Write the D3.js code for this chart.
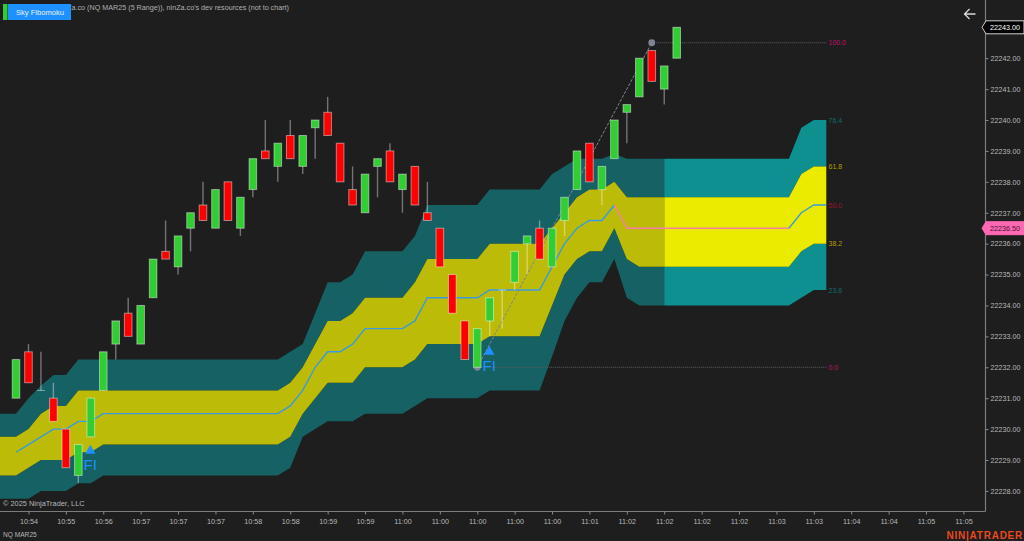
<!DOCTYPE html>
<html>
<head>
<meta charset="utf-8">
<script src="https://cdn.jsdelivr.net/npm/d3@7"></script>
<style>
  html, body { margin: 0; padding: 0; background: #1e1e1e; overflow: hidden; }
  svg { display: block; font-family: "Liberation Sans", Arial, sans-serif; }
  text { fill: #b8b8b8; }
</style>
</head>
<body>
<svg id="chart" width="1024" height="541"></svg>
<script>
// all prices are stored as offset from this
const base_price = 22200;

// candles, index 0..53
const opens  = [31,32.5,31.25,31,30,28.5,29.75,31.25,32.75,33.75,32.75,34.25,35.75,35.25,36.5,37.25,36.5,38,36.5,37.75,39,38.5,39.5,38.5,39.75,40.25,39.25,37.75,37,38.5,39,37.75,38.5,37,36.5,35,33.5,32,33.5,34.5,34.75,36,36.5,35.25,36.75,37.75,39.25,37.75,38.75,40.25,40.75,42.25,41,42];
const highs  = [32.25,32.75,32.5,31.5,30,29.5,31,32.5,33.5,34.25,34,35.5,36.75,36.25,37,38,37.75,38,37.5,38.75,40,39.25,40,39.5,40,40.75,39.25,38.5,38.25,38.75,39.25,38.25,38.5,38,36.5,35,33.5,33.25,34.25,34.5,35.75,36.25,36.75,36.5,37.5,39,39.25,38.5,40,40.5,42,42.25,41.75,43];
const lows   = [31,31.5,31.25,30.25,28.75,28.25,29.75,31.25,32.25,33,32.75,34.25,35.5,35,35.75,36.75,36.5,36.75,36.25,37.5,38.75,38,38.75,38.25,38.75,39.5,38,37.25,37,37.5,38,37,37.25,36.75,35.25,33.75,32.25,32,33,33.25,34.5,35,35.5,35.25,36.25,37.75,38,37.25,38.75,39.25,40.75,41.25,40.5,42];
const closes = [32.25,31.5,31.25,30.25,28.75,29.5,31,32.5,33.5,33,34,35.5,35.5,36.25,37,36.75,37.75,36.75,37.5,38.75,38.75,39.25,38.75,39.5,40,39.5,38,37.25,38.25,38.75,38,38.25,37.25,36.75,35.25,33.75,32.25,33.25,34.25,34.5,35.75,36.25,35.5,36.5,37.5,39,38,38.5,40,40.5,42,41.25,41.75,43];

// ribbon, index -2..65 (runs past the last candle)
const ribbon_start = -2;
const bright_from = 52;
const teal_top = [30.5,30.5,30.5,31,31.4,31.75,31.75,
  32.25,32.25,32.25,32.25,32.25,32.25,32.25,32.25,32.25,32.25,32.25,32.25,32.25,32.25,32.25,32.25,32.25,
  32.5,32.75,33.75,34.75,34.75,35,35.75,35.75,35.75,35.75,36.25,37.25,37.25,37.25,37.25,37.25,
  37.75,37.75,37.75,37.75,37.75,38.25,38.5,38.75,38.75,38.75,38.9,
  38.75,38.75,38.75,38.75,38.75,38.75,38.75,38.75,38.75,38.75,38.75,38.75,38.75,38.75,39.75,40,40];
const yellow_top = [29.75,29.75,29.75,30,30.5,30.75,30.75,
  31.25,31.25,31.25,31.25,31.25,31.25,31.25,31.25,31.25,31.25,31.25,31.25,31.25,31.25,31.25,31.25,31.25,
  31.5,32,32.75,33.5,33.5,33.75,34.25,34.25,34.25,34.25,34.75,35.5,35.5,35.5,35.5,35.5,
  36,36,36,36,36,36.5,37,37.5,37.75,37.75,38,
  37.5,37.5,37.5,37.5,37.5,37.5,37.5,37.5,37.5,37.5,37.5,37.5,37.5,37.5,38.25,38.5,38.5];
const mid_line = [null,null,29.25,29.5,29.75,30,30,30.25,30.25,
  30.5,30.5,30.5,30.5,30.5,30.5,30.5,30.5,30.5,30.5,30.5,30.5,30.5,30.5,30.5,
  30.75,31.25,32,32.5,32.5,32.75,33.25,33.25,33.25,33.25,33.5,34.25,34.25,34.25,34.25,34.25,
  34.5,34.5,34.5,34.5,34.5,35.25,36,36.5,36.75,36.75,37.25,
  36.5,36.5,36.5,36.5,36.5,36.5,36.5,36.5,36.5,36.5,36.5,36.5,36.5,36.5,37,37.25,37.25];
const yellow_bot = [28.5,28.5,28.5,28.75,29,29,29,29.25,29.25,
  29.5,29.5,29.5,29.5,29.5,29.5,29.5,29.5,29.5,29.5,29.5,29.5,29.5,29.5,29.5,
  29.75,30.5,31,31.5,31.5,31.5,32,32,32,32,32.25,32.75,32.75,32.75,32.75,32.75,
  33,33,33,33,33,34,35,35.5,35.75,35.75,36.5,
  35.5,35.25,35.25,35.25,35.25,35.25,35.25,35.25,35.25,35.25,35.25,35.25,35.25,35.25,35.75,36,36];
const teal_bot = [27.75,27.75,27.75,27.75,28,28,28,28.25,28.25,
  28.5,28.5,28.5,28.5,28.5,28.5,28.5,28.5,28.5,28.5,28.5,28.5,28.5,28.5,28.5,
  28.75,29.75,30,30.25,30.25,30.25,30.5,30.5,30.5,30.5,30.75,31,31,31,31,31,
  31.25,31.25,31.25,31.25,31.25,32.35,33.5,34.25,34.75,34.75,35.5,
  34.25,34,34,34,34,34,34,34,34,34,34,34,34,34,34.25,34.5,34.5];

// fib levels on the right
const fib_labels = ['100.0','76.4','61.8','50.0','38.2','23.6','0.0'];
const fib_prices = [42.5,40,38.5,37.25,36,34.5,32];
const fib_colors = ['#c2106e','#0f6f6f','#b89c00','#a01034','#b89c00','#0f6f6f','#c2106e'];

// FI signals
const signal_index = [6,38];
const signal_price = [29.3,32.5];

// swing used for the fib
const swing_index = [37,51];
const swing_price = [32,42.5];

const price_ticks = [22228,22229,22230,22231,22232,22233,22234,22235,22236,22237,22238,22239,22240,22241,22242];
const time_labels = ['10:54','10:55','10:56','10:57','10:57','10:57','10:58','10:58','10:59','10:59','11:00','11:00','11:00','11:00','11:00','11:01','11:02','11:02','11:02','11:02','11:03','11:03','11:04','11:04','11:05','11:05'];

const svg = d3.select('#chart');
const axis_x = 985.5, axis_y = 511.5;

const x = d3.scaleLinear().domain([0,53]).range([16,676.7]);
const y = d3.scaleLinear().domain([22228,22243]).range([490.9,27.3]);
const py = v => y(base_price + v);

svg.append('defs').append('clipPath').attr('id','plot')
  .append('rect').attr('width',axis_x).attr('height',axis_y);

const plot = svg.append('g').attr('clip-path','url(#plot)');

// ribbon bands, dim up to the last candle then bright
function draw_band(top, bot, dim, bright) {
  const rows = top.map((t,i) => ({i: i + ribbon_start, t: t, b: bot[i]}));
  const area = d3.area().x(d => x(d.i)).y0(d => py(d.b)).y1(d => py(d.t));
  plot.append('path').attr('d', area(rows.filter(d => d.i <= bright_from))).attr('fill', dim);
  plot.append('path').attr('d', area(rows.filter(d => d.i >= bright_from))).attr('fill', bright);
}
draw_band(teal_top, yellow_top, '#156163', '#0e9090');
draw_band(yellow_bot, teal_bot, '#156163', '#0e9090');
draw_band(yellow_top, yellow_bot, '#bcbc08', '#ebeb00');

// mid line, pink while flat/falling
const mid_rows = mid_line.map((v,i) => ({i: i + ribbon_start, v: v})).filter(d => d.v !== null);
const line = d3.line().x(d => x(d.i)).y(d => py(d.v));
[[0,48,'#3a9ae0'],[48,62,'#f47fa8'],[62,65,'#3a9ae0']].forEach(s => {
  plot.append('path').attr('d', line(mid_rows.filter(d => d.i >= s[0] && d.i <= s[1])))
    .attr('fill','none').attr('stroke',s[2]).attr('stroke-width',1.4);
});

// fib lines
[0,fib_prices.length-1].forEach(k => {
  const from = k == 0 ? swing_index[1] : swing_index[0];
  plot.append('line').attr('x1',x(from)).attr('x2',x(65))
    .attr('y1',py(fib_prices[k])).attr('y2',py(fib_prices[k]))
    .attr('stroke','#5c6068').attr('stroke-width',1).attr('stroke-dasharray','1 1');
});

// swing line and end dots, candles go on top of them
plot.append('line')
  .attr('x1',x(swing_index[0])).attr('y1',py(swing_price[0]))
  .attr('x2',x(swing_index[1])).attr('y2',py(swing_price[1]))
  .attr('stroke','#7d8494').attr('stroke-width',1).attr('stroke-dasharray','3 1.5');
plot.selectAll('circle.swing').data(swing_index).enter().append('circle')
  .attr('class','swing')
  .attr('cx',d => x(d)).attr('cy',(d,i) => py(swing_price[i])).attr('r',3.4)
  .attr('fill','#7d8494');

// candles
const bar_ids = d3.range(opens.length);
plot.append('g').selectAll('line').data(bar_ids).enter().append('line')
  .attr('x1',i => x(i)).attr('x2',i => x(i))
  .attr('y1',i => py(highs[i])).attr('y2',i => py(lows[i]))
  .attr('stroke','rgba(255,255,255,0.38)').attr('stroke-width',1.4);
// no body when open == close, only a dash
plot.append('g').selectAll('line').data(bar_ids.filter(i => opens[i] == closes[i])).enter().append('line')
  .attr('x1',i => x(i) - 4).attr('x2',i => x(i) + 4)
  .attr('y1',i => py(opens[i])).attr('y2',i => py(opens[i]))
  .attr('stroke','rgba(255,255,255,0.45)').attr('stroke-width',1);
plot.append('g').selectAll('rect').data(bar_ids.filter(i => opens[i] != closes[i])).enter().append('rect')
  .attr('x',i => x(i) - 3.8).attr('width',7.6)
  .attr('y',i => py(Math.max(opens[i],closes[i])))
  .attr('height',i => Math.abs(py(opens[i]) - py(closes[i])))
  .attr('fill',i => closes[i] > opens[i] ? '#32cd32' : '#ff0000')
  .attr('stroke','rgba(255,255,255,0.45)').attr('stroke-width',1);

// FI signals
signal_index.forEach((s,i) => {
  plot.append('path').attr('d',d3.symbol().type(d3.symbolTriangle).size(48)())
    .attr('transform',`translate(${x(s)-0.5},${py(signal_price[i])})`).attr('fill','#1e90ff');
  plot.append('text').attr('x',x(s)-0.5).attr('y',py(signal_price[i]) + 19.5)
    .attr('text-anchor','middle').attr('font-size',15).style('fill','#1e90ff').text('FI');
});

// level labels
fib_labels.forEach((t,i) => {
  svg.append('text').attr('x',828.5).attr('y',py(fib_prices[i]) + 2.5)
    .attr('font-size',7).style('fill',fib_colors[i]).text(t);
});

// price axis
const y_axis = svg.append('g').attr('transform',`translate(${axis_x},0)`)
  .call(d3.axisRight(y).tickValues(price_ticks).tickSize(3).tickPadding(2).tickFormat(d3.format('.2f')));
y_axis.select('.domain').attr('d',`M0,0V${axis_y}`);

// time axis, labels repeat so tick by position
const tick_index = time_labels.map((d,i) => 1 + i * 3);
const x_axis = svg.append('g').attr('transform',`translate(0,${axis_y})`)
  .call(d3.axisBottom(x).tickValues(tick_index).tickSize(3).tickPadding(4)
    .tickFormat((d,i) => time_labels[i]));
x_axis.select('.domain').attr('d',`M0,0H${axis_x}`);
[y_axis,x_axis].forEach(a => {
  a.attr('font-family',null).attr('font-size',null);
  a.selectAll('text').attr('font-size',7.2).style('fill','#b8b8b8');
  a.selectAll('line').attr('stroke','#8a8a8a');
  a.select('.domain').attr('stroke','#7c7c7c').attr('stroke-width',1.2);
});

// price markers
function price_marker(price, fill, stroke, color) {
  const py0 = y(price);
  svg.append('path')
    .attr('d',`M982,${py0}L986,${py0-6.5}H1024V${py0+6.5}H986Z`)
    .attr('fill',fill).attr('stroke',stroke).attr('stroke-width',1);
  svg.append('text').attr('x',990).attr('y',py0 + 2.5).attr('font-size',7.2)
    .style('fill',color).text(d3.format('.2f')(price));
}
price_marker(22243,'#000000','#d0d0d0','#ffffff');
price_marker(22236.5,'#ff69b4','#ff69b4','#4a1030');

// header, only the part right of the button shows
svg.append('text').attr('x',289).attr('y',9.5).attr('text-anchor','end').attr('font-size',7.2)
  .style('fill','#b0b0b0').text("Za.co (NQ MAR25 (5 Range)), ninZa.co's dev resources (not to chart)");
svg.append('rect').attr('x',3).attr('y',4).attr('width',4.5).attr('height',16).attr('fill','#32cd32');
svg.append('rect').attr('x',8).attr('y',4).attr('width',63).attr('height',16).attr('fill','#1e90ff');
svg.append('text').attr('x',40).attr('y',14.8).attr('text-anchor','middle').attr('font-size',7.6)
  .style('fill','#e8f2ff').text('Sky Fibomoku');

// back arrow
svg.append('path').attr('d','M964.5,14H975.5M969.5,9L964.5,14L969.5,19')
  .attr('fill','none').attr('stroke','#d8d8d8').attr('stroke-width',1.3);

// footer
svg.append('text').attr('x',3).attr('y',506).attr('font-size',7.4)
  .style('fill','#b8b8b8').text('© 2025 NinjaTrader, LLC');
svg.append('text').attr('x',3).attr('y',536.5).attr('font-size',6.6)
  .style('fill','#b8b8b8').text('NQ MAR25');
svg.append('text').attr('x',1023).attr('y',538.5).attr('text-anchor','end').attr('font-size',10)
  .attr('font-weight','bold').attr('letter-spacing',0.75)
  .style('fill','#e8481f').text('NIN|ATRADER');
</script>
</body>
</html>
